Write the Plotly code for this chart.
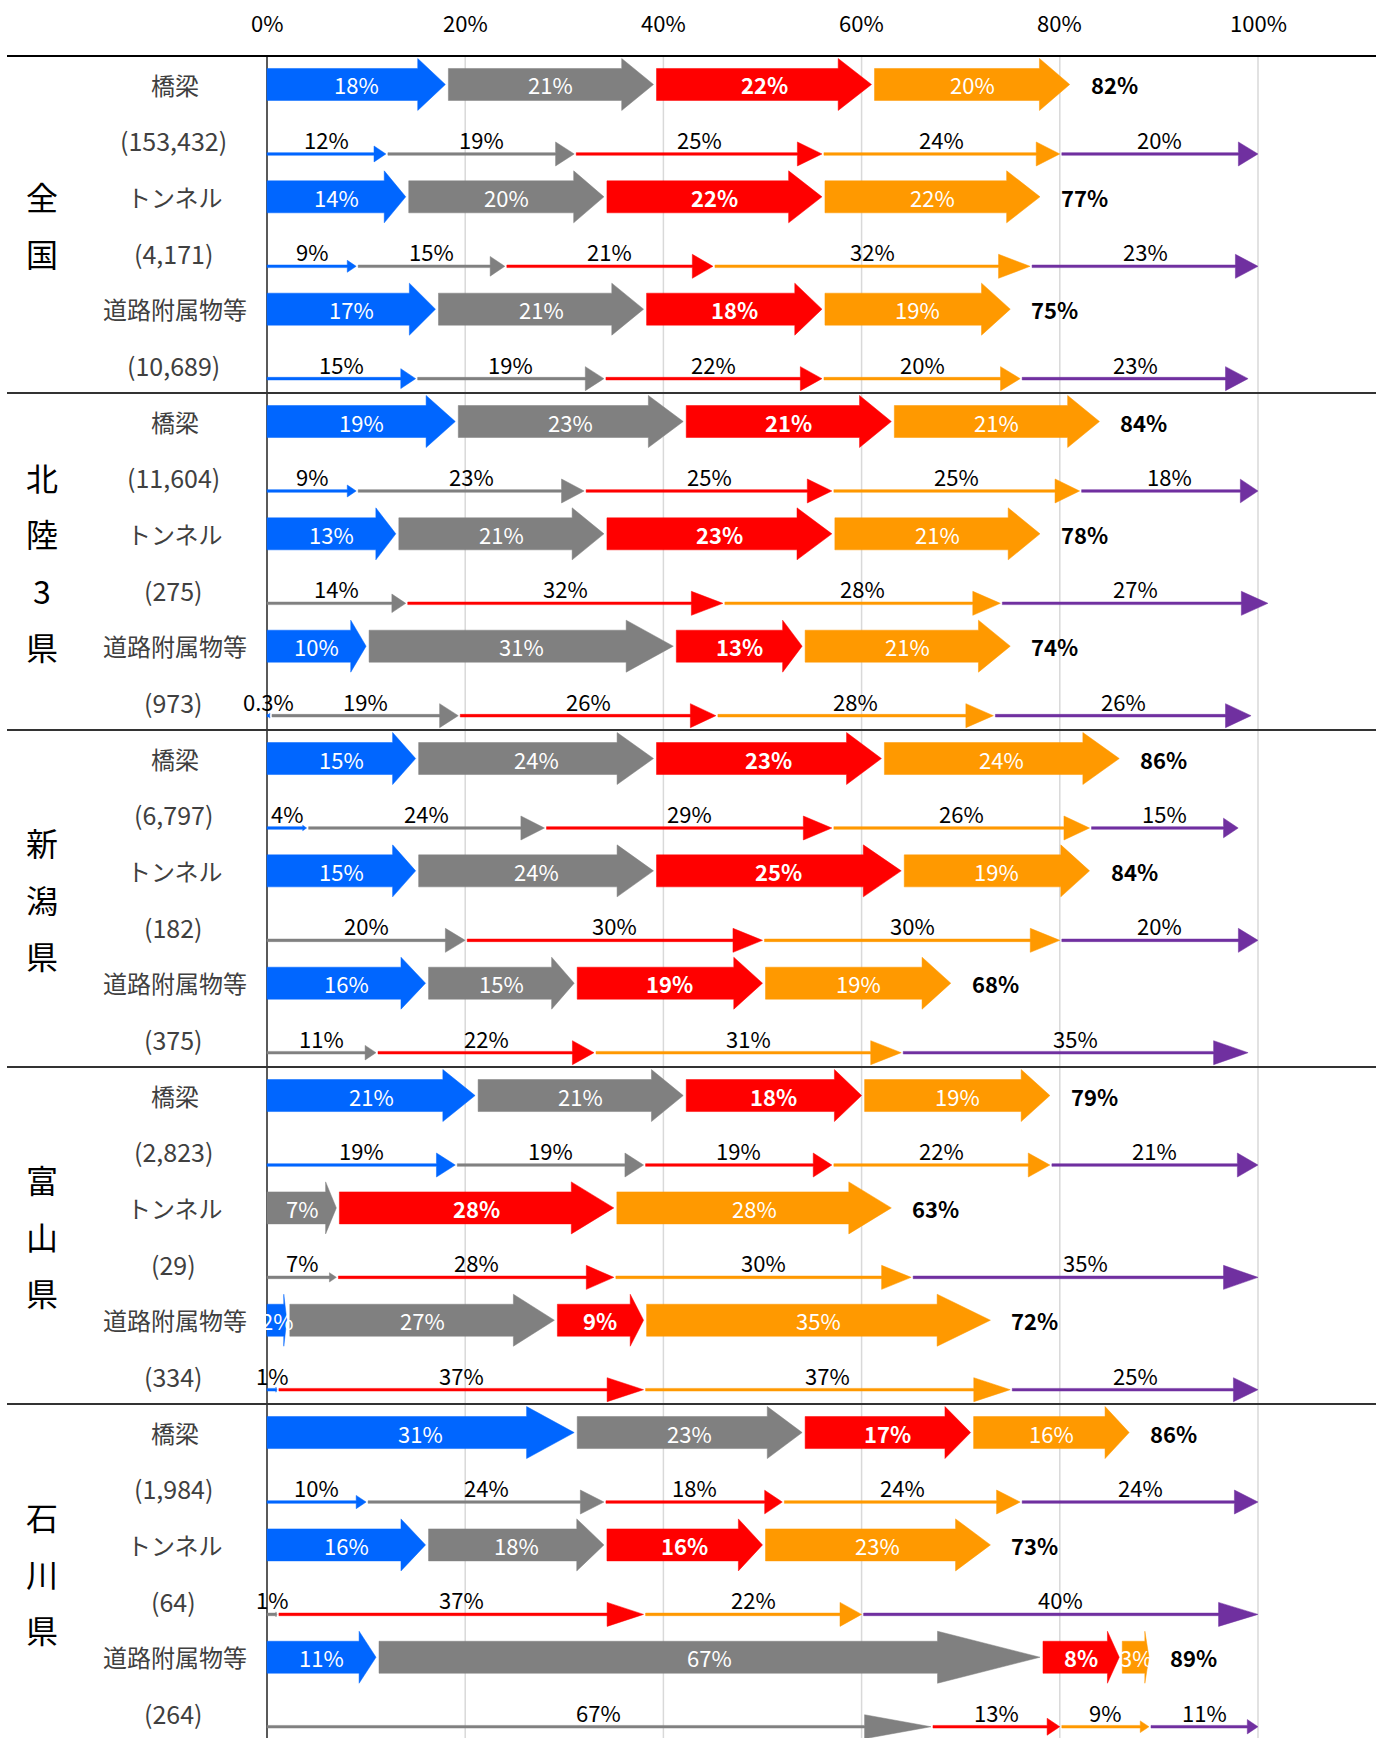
import plotly.graph_objects as go

# ---- data -------------------------------------------------------------
region_names = ["全国", "北陸3県", "新潟県", "富山県", "石川県"]
facilities = ["橋梁", "トンネル", "道路附属物等"]
counts = [
    ["153,432", "4,171", "10,689"],
    ["11,604", "275", "973"],
    ["6,797", "182", "375"],
    ["2,823", "29", "334"],
    ["1,984", "64", "264"],
]

# thick arrows: blue / gray / red / orange shares (%) and the stated total
thick_blue = [[18, 14, 17], [19, 13, 10], [15, 15, 16], [21, 0, 2], [31, 16, 11]]
thick_gray = [[21, 20, 21], [23, 21, 31], [24, 24, 15], [21, 7, 27], [23, 18, 67]]
thick_red = [[22, 22, 18], [21, 23, 13], [23, 25, 19], [18, 28, 9], [17, 16, 8]]
thick_orange = [[20, 22, 19], [21, 21, 21], [24, 19, 19], [19, 28, 35], [16, 23, 3]]
thick_total = [[82, 77, 75], [84, 78, 74], [86, 84, 68], [79, 63, 72], [86, 73, 89]]

# thin arrows: blue / gray / red / orange / purple shares (%)
thin_blue = [[12, 9, 15], [9, 0, 0.3], [4, 0, 0], [19, 0, 1], [10, 0, 0]]
thin_gray = [[19, 15, 19], [23, 14, 19], [24, 20, 11], [19, 7, 0], [24, 1, 67]]
thin_red = [[25, 21, 22], [25, 32, 26], [29, 30, 22], [19, 28, 37], [18, 37, 13]]
thin_orange = [[24, 32, 20], [25, 28, 28], [26, 30, 31], [22, 30, 37], [24, 22, 9]]
thin_purple = [[20, 23, 23], [18, 27, 26], [15, 20, 35], [21, 35, 25], [24, 40, 11]]

tick_values = [0, 20, 40, 60, 80, 100]
tick_labels = ["0%", "20%", "40%", "60%", "80%", "100%"]

colors = ["#0066FF", "#808080", "#FF0000", "#FF9900", "#7030A0"]

# ---- geometry ---------------------------------------------------------
W, H = 1387, 1738
X0_PX, X100_PX = 267, 1258          # pixel position of 0% and 100%
TOP_PX, ROW_PX = 56, 56.17          # header rule and row pitch
PX_X = 100.0 / (X100_PX - X0_PX)    # % per pixel
PX_Y = 1.0 / ROW_PX                 # row units per pixel
x_range = [-X0_PX * PX_X, (W - X0_PX) * PX_X]
y_range = [(H - TOP_PX) * PX_Y, -TOP_PX * PX_Y]

NUM_FONT = "Liberation Sans Narrow, Arial Narrow, Noto Sans CJK JP, sans-serif"
JP_FONT = "Noto Sans CJK JP, sans-serif"

fig = go.Figure()
annotations = []
shapes = []


def fmt(v):
    return f"{v:g}%"


def arrow(x0, x1, yc, body_half, head_half, head_len, color):
    xh = max(x0, x1 - head_len * PX_X)
    b, h = body_half * PX_Y, head_half * PX_Y
    xs = [x0, xh, xh, x1, xh, xh, x0, x0]
    ys = [yc - b, yc - b, yc - h, yc, yc + h, yc + b, yc + b, yc - b]
    fig.add_trace(go.Scatter(x=xs, y=ys, mode="lines", fill="toself",
                             fillcolor=color, line=dict(color=color, width=0.5),
                             hoverinfo="skip", showlegend=False))


# gridlines, 0% axis and top tick labels
for v, lab in zip(tick_values, tick_labels):
    shapes.append(dict(type="line", xref="x", yref="y", x0=v, x1=v,
                       y0=0, y1=y_range[0], layer="below",
                       line=dict(color="#000000" if v == 0 else "#D9D9D9",
                                 width=1.3 if v == 0 else 1.5)))
    annotations.append(dict(x=v, y=(22 - TOP_PX) * PX_Y, xref="x", yref="y",
                            xanchor="center", text=lab, showarrow=False,
                            font=dict(family=NUM_FONT, size=22, color="#000000")))

# horizontal rules: header and region separators
for g in range(len(region_names)):
    shapes.append(dict(type="line", xref="paper", yref="y", x0=7 / W, x1=1376 / W,
                       y0=g * 6, y1=g * 6,
                       line=dict(color="#000000" if g == 0 else "#333333", width=2)))

for g, name in enumerate(region_names):
    # vertical region name
    chars = list(name)
    mid = g * 6 + 3
    for i, ch in enumerate(chars):
        annotations.append(dict(x=42 / W, xref="paper", xanchor="center",
                                y=mid + (i - (len(chars) - 1) / 2), yref="y",
                                text=ch, showarrow=False,
                                font=dict(family=JP_FONT, size=32, color="#000000")))
    for f, fac in enumerate(facilities):
        r_thick = g * 6 + 2 * f
        r_thin = r_thick + 1
        yc = r_thick + 0.5 + 0.007
        annotations.append(dict(x=175 / W, xref="paper", xanchor="center",
                                y=r_thick + 0.5, yref="y",
                                text=fac, showarrow=False,
                                font=dict(family=JP_FONT, size=24, color="#404040")))
        annotations.append(dict(x=173 / W, xref="paper", xanchor="center",
                                y=r_thin + 0.5, yref="y",
                                text=f"({counts[g][f]})", showarrow=False,
                                font=dict(family=JP_FONT, size=25, color="#404040")))

        # thick arrows
        vals = [thick_blue[g][f], thick_gray[g][f], thick_red[g][f], thick_orange[g][f]]
        cum = 0.0
        first = True
        for k, v in enumerate(vals):
            if v <= 0:
                continue
            start = cum + (0 if first else 3 * PX_X)
            end = cum + v
            length_px = (end - start) / PX_X
            arrow(start, end, yc, 16, 26, 0.155 * length_px, colors[k])
            txt = f"<b>{fmt(v)}</b>" if k == 2 else fmt(v)
            annotations.append(dict(x=(start + end) / 2, y=yc, xref="x", yref="y",
                                    xanchor="center", text=txt, showarrow=False,
                                    font=dict(family=NUM_FONT, size=22, color="#FFFFFF")))
            cum = end
            first = False
        annotations.append(dict(x=cum + 19 * PX_X, y=yc, xref="x", yref="y",
                                xanchor="left", text=f"<b>{thick_total[g][f]}%</b>",
                                showarrow=False,
                                font=dict(family=NUM_FONT, size=22, color="#000000")))

        # thin arrows
        vals = [thin_blue[g][f], thin_gray[g][f], thin_red[g][f],
                thin_orange[g][f], thin_purple[g][f]]
        yl = r_thin + 0.5 + 0.244
        ylab = r_thin + 0.5 - 0.025
        cum = 0.0
        first = True
        for k, v in enumerate(vals):
            if v <= 0:
                continue
            start = cum + (0 if first else 2 * PX_X)
            end = cum + v
            length_px = (end - start) / PX_X
            arrow(start, end, yl, 1.3, min(12, max(2.5, 0.067 * length_px)),
                  0.1 * length_px, colors[k])
            annotations.append(dict(x=(start + end) / 2, y=ylab, xref="x", yref="y",
                                    xanchor="center", text=fmt(v), showarrow=False,
                                    font=dict(family=NUM_FONT, size=22, color="#000000")))
            cum = end
            first = False

fig.update_layout(
    width=W, height=H,
    margin=dict(l=0, r=0, t=0, b=0),
    paper_bgcolor="#FFFFFF", plot_bgcolor="#FFFFFF",
    xaxis=dict(range=x_range, visible=False, fixedrange=True),
    yaxis=dict(range=y_range, visible=False, fixedrange=True),
    shapes=shapes, annotations=annotations, showlegend=False,
)

fig.write_html("out.html")
